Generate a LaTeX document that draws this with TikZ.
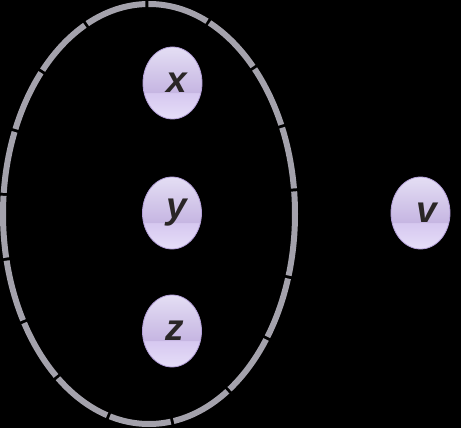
\documentclass[tikz,border=0pt]{standalone}
\usepackage{fontspec}
\setsansfont{Liberation Sans}
\usepackage{tikz}
\usetikzlibrary{shapes.geometric}
\definecolor{vtop}{HTML}{E4DEF4}
\definecolor{vmid}{HTML}{C6B6E2}
\definecolor{vlowtop}{HTML}{D6C8F0}
\definecolor{vlow}{HTML}{E6DEF8}
\definecolor{vborder}{HTML}{B4A0D8}
\definecolor{ringgray}{HTML}{A4A2AC}
\definecolor{ink}{HTML}{2A2626}
\pgfdeclareverticalshading{vgloss}{100bp}{color(0bp)=(vlow); color(25bp)=(vlow); color(43bp)=(vlowtop); color(43.5bp)=(vmid); color(75bp)=(vtop); color(100bp)=(vtop)}
\tikzstyle{vn}=[shape=ellipse,draw=vborder,line width=0.8pt,shading=vgloss,
  minimum width=59pt,minimum height=72pt,inner sep=0pt,text=ink,
  font=\fontsize{37}{42}\selectfont\sffamily\bfseries\itshape]
\tikzstyle{ring}=[draw=ringgray,line width=6pt,dash pattern=on 62pt off 3pt]

\begin{document}
\begin{tikzpicture}[x=1pt,y=-1pt]
        \fill[black] (0,0) rectangle (461,428);
        \useasboundingbox (0,0) rectangle (461,428);
        \draw[ring] (149,214) ellipse [x radius=146, y radius=210];
        \node[vn] (X) at (172.5, 83) {\hspace{9pt}x};
        \node[vn] (Y) at (172, 213) {\hspace{10pt}y};
        \node[vn] (Z) at (172, 331) {\hspace{5pt}z};
        \node[vn] (V) at (420.5, 213) {\hspace{12pt}v};
    \end{tikzpicture}
\end{document}
